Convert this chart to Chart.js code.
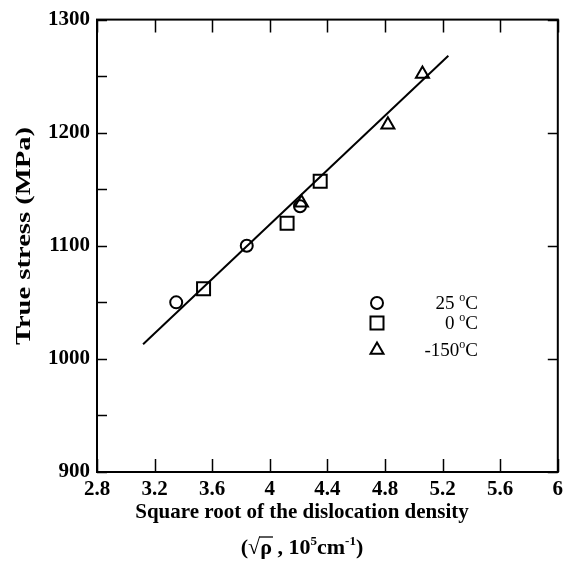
<!DOCTYPE html>
<html>
<head>
<meta charset="utf-8">
<script src="https://cdn.jsdelivr.net/npm/chart.js@4.4.0/dist/chart.umd.min.js"></script>
<style>
  html, body { margin: 0; padding: 0; background: #fff; }
</style>
</head>
<body>
<canvas id="myChart" width="569" height="566"></canvas>
<script>
// axis ticks
const xTicks = [2.8, 3.2, 3.6, 4, 4.4, 4.8, 5.2, 5.6, 6];
const yTicks = [900, 1000, 1100, 1200, 1300];
const yMinor = [950, 1050, 1150, 1250];

// measured points
const x25 = [3.35, 3.84, 4.21];
const y25 = [1050, 1100, 1135];
const x0 = [3.54, 4.12, 4.35];
const y0 = [1062, 1120, 1157];
const xm150 = [4.22, 4.82, 5.06];
const ym150 = [1138, 1207, 1252];

// fitted line
const fitX = [3.12, 5.24];
const fitY = [1013, 1268];

const legendLabels = ["25 °C", "0 °C", "-150°C"];

const serif = "'Liberation Serif', 'Times New Roman', serif";

function pts(xs, ys) {
  return xs.map((x, i) => ({ x: x, y: ys[i] }));
}

// draws text where "°" becomes a small raised "o"
function drawRich(ctx, str, x, y, size, bold, align) {
  const w = bold ? "bold " : "";
  const parts = [];
  let buf = "";
  for (const ch of str) {
    if (ch === "°") {
      if (buf) parts.push({ t: buf, sup: false });
      parts.push({ t: "o", sup: true });
      buf = "";
    } else buf += ch;
  }
  if (buf) parts.push({ t: buf, sup: false });
  let total = 0;
  parts.forEach(p => {
    ctx.font = w + (p.sup ? Math.round(size * 0.62) : size) + "px " + serif;
    p.w = ctx.measureText(p.t).width;
    total += p.w;
  });
  let cx = align === "right" ? x - total : align === "center" ? x - total / 2 : x;
  ctx.textAlign = "left";
  ctx.textBaseline = "alphabetic";
  parts.forEach(p => {
    ctx.font = w + (p.sup ? Math.round(size * 0.62) : size) + "px " + serif;
    ctx.fillText(p.t, cx, p.sup ? y - size * 0.42 : y);
    cx += p.w;
  });
}

const framePlugin = {
  id: "frame",
  afterDraw(chart) {
    const ctx = chart.ctx;
    const a = chart.chartArea;
    const xs = chart.scales.x, ys = chart.scales.y;
    ctx.save();
    ctx.strokeStyle = "#000";
    ctx.fillStyle = "#000";
    ctx.lineWidth = 2;
    ctx.strokeRect(a.left, a.top, a.right - a.left, a.bottom - a.top);

    // inward ticks
    ctx.beginPath();
    xTicks.forEach(v => {
      const px = Math.round(xs.getPixelForValue(v)) + 0.5;
      ctx.moveTo(px, a.bottom); ctx.lineTo(px, a.bottom - 13);
      ctx.moveTo(px, a.top); ctx.lineTo(px, a.top + 13);
    });
    yTicks.concat(yMinor).forEach(v => {
      const py = Math.round(ys.getPixelForValue(v)) + 0.5;
      ctx.moveTo(a.left, py); ctx.lineTo(a.left + 10, py);
    });
    yTicks.forEach(v => {
      const py = Math.round(ys.getPixelForValue(v)) + 0.5;
      ctx.moveTo(a.right, py); ctx.lineTo(a.right - 10, py);
    });
    ctx.lineWidth = 1.5;
    ctx.stroke();

    // legend
    const ly = [303, 323, 350];
    chart.data.datasets.slice(0, 3).forEach((ds, i) => {
      ctx.fillStyle = "rgba(0,0,0,0)";
      ctx.strokeStyle = "#000";
      ctx.lineWidth = 2;
      Chart.helpers.drawPoint(ctx, {
        pointStyle: ds.pointStyle, radius: ds.pointRadius, rotation: 0, borderWidth: 2
      }, 377, ly[i]);
      ctx.fillStyle = "#000";
      drawRich(ctx, legendLabels[i], 478, ly[i] + 6, 19, false, "right");
    });

    // y title (the original lettering is stretched along its length)
    ctx.save();
    ctx.translate(24, 236);
    ctx.rotate(-Math.PI / 2);
    ctx.scale(1.3, 1);
    ctx.font = "bold 22px " + serif;
    ctx.textAlign = "center";
    ctx.textBaseline = "middle";
    ctx.fillText("True stress (MPa)", 0, 0);
    ctx.restore();

    // x title
    ctx.font = "bold 21px " + serif;
    ctx.textAlign = "center";
    ctx.textBaseline = "middle";
    ctx.fillText("Square root of the dislocation density", 302, 513);

    // second line: (√ρ , 10^5 cm^-1)
    const by = 554;
    const big = "bold 22px " + serif, small = "bold 13px " + serif;
    const segs = [
      { t: "(", f: big, dy: 0 },
      { t: "√", f: big, dy: 0 },
      { t: "ρ", f: big, dy: 0, bar: true },
      { t: " , 10", f: big, dy: 0 },
      { t: "5", f: small, dy: -9 },
      { t: "cm", f: big, dy: 0 },
      { t: "-1", f: small, dy: -9 },
      { t: ")", f: big, dy: 0 }
    ];
    let tot = 0;
    segs.forEach(s => { ctx.font = s.f; s.w = ctx.measureText(s.t).width; tot += s.w; });
    let cx = 302 - tot / 2;
    ctx.textAlign = "left";
    ctx.textBaseline = "alphabetic";
    segs.forEach(s => {
      ctx.font = s.f;
      ctx.fillText(s.t, cx, by + s.dy);
      if (s.bar) {
        ctx.lineWidth = 1.3;
        ctx.beginPath();
        ctx.moveTo(cx - 1, by - 17);
        ctx.lineTo(cx + s.w + 1, by - 17);
        ctx.stroke();
      }
      cx += s.w;
    });
    ctx.restore();
  }
};

new Chart("myChart", {
  type: "scatter",
  data: {
    datasets: [
      {
        label: "25",
        data: pts(x25, y25),
        pointStyle: "circle",
        pointRadius: 6,
        borderColor: "#000",
        backgroundColor: "rgba(0,0,0,0)",
        borderWidth: 2,
      },
      {
        label: "0",
        data: pts(x0, y0),
        pointStyle: "rect",
        pointRadius: 9.2,
        borderColor: "#000",
        backgroundColor: "rgba(0,0,0,0)",
        borderWidth: 2,
      },
      {
        label: "-150",
        data: pts(xm150, ym150),
        pointStyle: "triangle",
        pointRadius: 7.5,
        borderColor: "#000",
        backgroundColor: "rgba(0,0,0,0)",
        borderWidth: 2,
      },
      {
        label: "fit",
        data: pts(fitX, fitY),
        showLine: true,
        pointRadius: 0,
        borderColor: "#000",
        borderWidth: 2,
      },
    ],
  },
  options: {
    responsive: false,
    animation: false,
    devicePixelRatio: 1,
    layout: { padding: { top: 17, right: 10, left: 0, bottom: 0 } },
    plugins: {
      legend: { display: false },
      tooltip: { enabled: false },
    },
    scales: {
      x: {
        type: "linear",
        min: 2.8,
        max: 6,
        afterBuildTicks: (s) => { s.ticks = xTicks.map(v => ({ value: v })); },
        afterFit: (s) => { s.height = 94; },
        grid: { display: false, drawTicks: false },
        border: { display: false },
        ticks: {
          color: "#000",
          padding: 5,
          maxRotation: 0,
          autoSkip: false,
          font: { family: serif, size: 21, weight: "bold" },
          callback: (v) => String(+(+v).toFixed(1)),
        },
      },
      y: {
        type: "linear",
        min: 900,
        max: 1300,
        afterBuildTicks: (s) => { s.ticks = yTicks.map(v => ({ value: v })); },
        afterFit: (s) => { s.width = 97; },
        grid: { display: false, drawTicks: false },
        border: { display: false },
        ticks: {
          color: "#000",
          padding: 7,
          font: { family: serif, size: 21, weight: "bold" },
          callback: (v) => String(v),
        },
      },
    },
  },
  plugins: [framePlugin],
});
</script>
</body>
</html>
